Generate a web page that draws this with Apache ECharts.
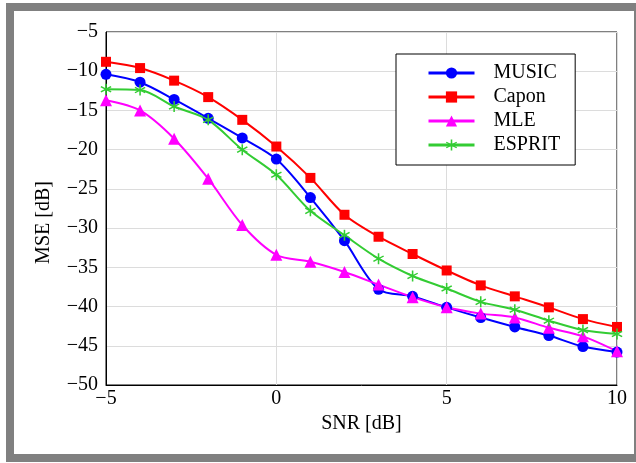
<!DOCTYPE html>
<html>
<head>
<meta charset="utf-8">
<title>MSE vs SNR</title>
<script src="https://cdn.jsdelivr.net/npm/echarts@6/dist/echarts.min.js"></script>
<style>
  html, body { margin: 0; padding: 0; background: #fff; overflow: hidden; }
  #frame { position: absolute; left: 6px; top: 3px; width: 620px; height: 443px; border: 8px solid #808080; }
  #container { position: absolute; left: 0; top: 0; width: 636px; height: 463px; }
</style>
</head>
<body>
<div id="frame"></div>
<div id="container"></div>
<script>
var snr = [-5, -4, -3, -2, -1, 0, 1, 2, 3, 4, 5, 6, 7, 8, 9, 10];
var music = [-10.4, -11.4, -13.6, -16.0, -18.5, -21.2, -26.1, -31.6, -37.8, -38.7, -40.1, -41.4, -42.6, -43.7, -45.1, -45.8];
var capon = [-8.8, -9.6, -11.2, -13.3, -16.2, -19.6, -23.6, -28.3, -31.1, -33.3, -35.4, -37.3, -38.7, -40.1, -41.6, -42.6];
var mle = [-13.7, -15.0, -18.6, -23.7, -29.6, -33.4, -34.3, -35.6, -37.2, -38.8, -40.1, -40.9, -41.4, -42.7, -43.8, -45.7];
var esprit = [-12.3, -12.4, -14.5, -16.2, -20.0, -23.2, -27.8, -30.9, -33.9, -36.1, -37.7, -39.4, -40.4, -41.8, -43.0, -43.5];

var names = ['MUSIC', 'Capon', 'MLE', 'ESPRIT'];
var colors = ['#0000ff', '#ff0000', '#ff00ff', '#33cc33'];

// asterisk marker: three crossed bars
var asterisk = 'path://M-1.3,-10L1.3,-10L1.3,10L-1.3,10Z' +
    'M7.9,-6.0L9.2,-3.8L-7.9,6.0L-9.2,3.8Z' +
    'M-9.2,-3.8L-7.9,-6.0L9.2,3.8L7.9,6.0Z';
var symbols = ['circle', 'rect', 'triangle', asterisk];
var sizes = [11, 10, 12, 11];

var font = 'Liberation Serif';

function pairs(ys) {
    return snr.map(function(x, i) { return [x, ys[i]]; });
}
function minus(v) {
    return v < 0 ? '\u2212' + Math.abs(v) : String(v);
}

var allData = [music, capon, mle, esprit];
var series = names.map(function(n, i) {
    return {
        name: n,
        type: 'line',
        data: pairs(allData[i]),
        smooth: 0.3,
        symbol: symbols[i],
        symbolSize: sizes[i],
        color: colors[i],
        lineStyle: { width: 2, color: colors[i] },
        itemStyle: { color: colors[i] }
    };
});

var myChart = echarts.init(document.getElementById('container'));
var option = {
    animation: false,
    grid: {
        left: 106, top: 32, width: 511, height: 353,
        show: true, borderColor: '#000', borderWidth: 1,
        outerBoundsMode: 'none'
    },
    legend: {
        data: names,
        orient: 'vertical',
        left: 396, top: 54,
        padding: [9, 15, 10, 31],
        itemGap: 4,
        itemWidth: 46,
        itemHeight: 14,
        borderColor: '#000',
        borderWidth: 1,
        backgroundColor: '#fff',
        lineStyle: { width: 3 },
        textStyle: { fontFamily: font, fontSize: 20, color: '#000', padding: [0, 0, 0, 14] }
    },
    xAxis: {
        type: 'value',
        min: -5, max: 10, interval: 5,
        name: 'SNR [dB]',
        nameLocation: 'middle',
        nameGap: 24,
        nameTextStyle: { fontFamily: font, fontSize: 20, color: '#000' },
        axisLine: { onZero: false, lineStyle: { color: '#000', width: 1 } },
        axisTick: { show: false },
        axisLabel: { fontFamily: font, fontSize: 20, color: '#000', margin: 4, formatter: minus },
        splitLine: { show: true, lineStyle: { color: '#dcdcdc', width: 1 } }
    },
    yAxis: {
        type: 'value',
        min: -50, max: -5, interval: 5,
        name: 'MSE [dB]',
        nameLocation: 'middle',
        nameGap: 52,
        nameTextStyle: { fontFamily: font, fontSize: 20, color: '#000', padding: [0, 28, 0, 0] },
        axisLine: { onZero: false, lineStyle: { color: '#000', width: 1 } },
        axisTick: { show: false },
        axisLabel: { fontFamily: font, fontSize: 20, color: '#000', margin: 8, formatter: minus },
        splitLine: { show: true, lineStyle: { color: '#dcdcdc', width: 1 } }
    },
    series: series
};
myChart.setOption(option);
</script>
</body>
</html>
